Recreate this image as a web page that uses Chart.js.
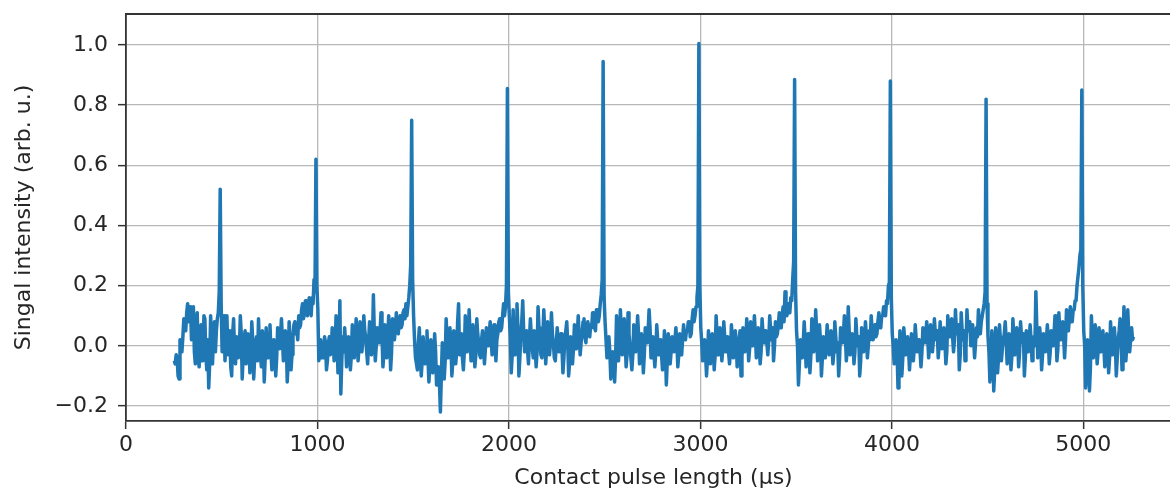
<!DOCTYPE html>
<html>
<head>
<meta charset="utf-8">
<script src="https://cdn.jsdelivr.net/npm/chart.js@4"></script>
<style>
  html, body { margin: 0; padding: 0; background: #fff; overflow: hidden; }
  #wrap { width: 1170px; height: 494px; overflow: hidden; }
</style>
</head>
<body>
<div id="wrap"><canvas id="pulses" width="1181" height="494"></canvas></div>
<script>
// sampling of the contact pulse length axis (µs)
var pulseStart = 252;
var pulseStep = 5;

// measured signal, one block per pulse (peak first, then the noise up to the next one)
var signal = [
  -0.05, -0.06, -0.03, -0.04, -0.10, -0.11, 0.02, 0.01, -0.02, 0.03, 0.09, 0.06, 0.05, 0.11, 0.14, 0.08, 0.12, 0.13, 0.02, 0.09,
  0.13, -0.02, -0.06, 0.07, 0.11, -0.04, -0.07, 0.03, 0.07, -0.05, -0.04, 0.10, 0.09, -0.03, -0.08, 0.02, -0.14, -0.06, 0.10, 0.01,
  -0.06, 0.04, 0.08, -0.02, 0.05, 0.09, 0.11, 0.18,
  // 500
  0.52, 0.14, -0.02, 0.05, 0.10, -0.05, 0.02, 0.10, -0.03, 0.01, 0.05, -0.07, -0.10, 0.04, 0.09, -0.02, -0.06, 0.03, 0.02, -0.04,
  -0.02, 0.10, 0.04, -0.11, -0.03, 0.02, 0.05, -0.06, -0.02, 0.04, 0.01, -0.09, -0.03, 0.08, 0.02, -0.11, -0.04, 0.01, 0.03, -0.05,
  0.09, 0.00, -0.03, -0.07, 0.05, 0.02, -0.12, -0.04, 0.06, 0.01, -0.04, 0.03, 0.07, -0.02, -0.08, 0.00, 0.02, -0.03, -0.10, -0.04,
  0.06, 0.01, -0.01, 0.04, 0.09, 0.02, -0.05, -0.01, 0.05, 0.03, -0.12, -0.06, 0.08, 0.02, -0.08, -0.03, 0.03, 0.07, 0.08, 0.04,
  0.05, 0.02, 0.10, 0.06, 0.07, 0.12, 0.14, 0.09, 0.11, 0.15, 0.15, 0.10, 0.13, 0.16, 0.12, 0.10, 0.16, 0.14, 0.22, 0.18,
  // 1000
  0.62, 0.20, 0.12, -0.05, -0.03, 0.02, -0.04, 0.00, -0.04, 0.03, 0.01, -0.08, -0.05, 0.01, 0.03, -0.03, -0.01, 0.06, 0.02, -0.05,
  -0.02, 0.10, 0.04, -0.09, -0.03, 0.15, -0.16, -0.05, 0.03, -0.02, 0.06, 0.01, -0.07, -0.02, 0.03, 0.00, -0.08, -0.03, 0.07, 0.02,
  -0.04, 0.01, 0.09, 0.03, -0.05, -0.01, 0.08, 0.04, -0.02, 0.02, 0.10, 0.05, 0.03, -0.02, -0.06, 0.01, 0.08, 0.03, -0.03, 0.00,
  0.17, 0.04, -0.05, 0.00, 0.06, 0.02, 0.01, 0.05, 0.11, 0.03, -0.07, -0.02, 0.07, 0.01, -0.04, 0.03, 0.10, 0.05, -0.08, -0.02,
  0.09, 0.04, 0.02, 0.06, 0.11, 0.05, 0.04, 0.08, 0.10, 0.06, 0.07, 0.11, 0.12, 0.09, 0.14, 0.10, 0.13, 0.16, 0.20, 0.27,
  // 1500
  0.75, 0.22, 0.10, 0.02, -0.04, -0.06, -0.08, 0.01, 0.06, -0.03, -0.10, -0.05, 0.03, -0.02, -0.06, 0.00, 0.05, -0.04, -0.12, -0.06,
  0.02, -0.03, -0.09, -0.04, 0.04, -0.02, -0.13, -0.08, -0.07, -0.12, -0.22, -0.10, 0.01, -0.04, -0.11, -0.05, 0.09, 0.02, -0.04, -0.01,
  0.06, 0.00, -0.10, -0.05, 0.05, 0.01, -0.06, -0.02, 0.08, 0.14, -0.03, 0.00, 0.04, -0.04, -0.08, -0.02, 0.10, 0.03, -0.02, 0.02,
  0.12, 0.04, -0.05, -0.01, 0.07, 0.02, -0.07, -0.03, 0.09, 0.04, 0.01, -0.03, -0.04, 0.02, 0.05, 0.00, -0.06, -0.01, 0.06, 0.03,
  0.00, 0.04, 0.08, 0.02, -0.03, 0.03, 0.07, 0.01, -0.05, 0.02, 0.04, 0.08, 0.09, 0.05, 0.06, 0.10, 0.14, 0.10, 0.13, 0.20,
  // 2000
  0.855, 0.18, 0.10, 0.03, -0.09, -0.03, 0.12, 0.04, -0.03, 0.02, 0.14, 0.06, -0.10, -0.04, 0.03, 0.08, 0.15, 0.05, -0.02, 0.01,
  0.05, -0.01, -0.06, 0.02, 0.09, 0.03, -0.01, -0.04, 0.05, 0.00, -0.07, -0.02, 0.13, 0.06, 0.02, -0.03, -0.04, 0.03, 0.12, 0.05,
  -0.06, -0.01, 0.08, 0.02, -0.03, 0.01, 0.11, 0.04, 0.01, -0.04, -0.05, 0.00, 0.06, 0.02, -0.02, 0.03, 0.04, -0.01, -0.09, -0.04,
  0.02, 0.05, 0.08, 0.01, -0.10, -0.05, 0.03, 0.00, -0.06, -0.01, 0.07, 0.02, -0.01, 0.04, 0.10, 0.03, -0.03, 0.01, 0.04, 0.08,
  0.09, 0.03, 0.01, 0.06, 0.08, 0.04, 0.03, 0.07, 0.06, 0.11, 0.11, 0.06, 0.05, 0.12, 0.12, 0.08, 0.10, 0.14, 0.17, 0.22,
  // 2500
  0.945, 0.16, 0.08, 0.02, -0.04, -0.01, 0.03, -0.02, -0.11, -0.06, -0.02, -0.08, -0.12, -0.04, 0.10, 0.03, -0.05, 0.00, 0.12, 0.05,
  -0.03, 0.01, 0.09, 0.02, -0.07, -0.03, 0.11, 0.04, 0.00, -0.04, -0.08, -0.03, 0.07, 0.01, -0.02, 0.03, 0.10, 0.04, -0.06, -0.01,
  0.04, 0.00, -0.09, -0.03, 0.06, 0.02, 0.01, 0.05, 0.12, 0.06, -0.04, 0.00, 0.03, -0.02, -0.07, -0.02, 0.07, 0.02, -0.03, 0.01,
  0.02, -0.03, -0.08, -0.02, 0.05, 0.00, -0.13, -0.05, 0.04, 0.01, -0.06, -0.02, 0.03, 0.00, -0.02, 0.02, 0.06, 0.01, -0.07, -0.03,
  0.04, 0.00, -0.03, 0.02, 0.07, 0.03, 0.02, 0.05, 0.05, 0.08, 0.08, 0.03, 0.04, 0.09, 0.12, 0.08, 0.10, 0.13, 0.16, 0.20,
  // 3000
  1.005, 0.20, 0.06, 0.01, -0.05, -0.01, 0.02, -0.03, -0.10, -0.04, 0.05, 0.01, -0.06, -0.02, 0.04, 0.00, -0.08, -0.03, 0.10, 0.04,
  -0.03, 0.01, 0.06, 0.02, -0.05, -0.01, 0.08, 0.03, -0.02, 0.01, 0.03, -0.02, -0.06, -0.02, 0.07, 0.02, -0.04, 0.00, 0.05, 0.01,
  -0.07, -0.02, 0.02, 0.05, -0.10, -0.04, 0.06, 0.02, -0.02, 0.02, 0.09, 0.03, -0.05, -0.01, 0.08, 0.03, 0.00, 0.04, 0.10, 0.04,
  -0.04, 0.00, 0.06, 0.01, -0.06, -0.02, 0.09, 0.04, 0.01, 0.05, 0.05, 0.01, -0.03, 0.02, 0.10, 0.05, 0.02, 0.06, -0.05, 0.00,
  0.08, 0.03, 0.04, 0.07, 0.11, 0.06, 0.06, 0.10, 0.13, 0.08, 0.18, 0.12, 0.10, 0.14, 0.14, 0.11, 0.16, 0.15, 0.22, 0.28,
  // 3500
  0.885, 0.18, 0.05, 0.00, -0.13, -0.06, 0.02, -0.01, -0.04, 0.01, 0.08, 0.02, -0.07, -0.02, 0.04, 0.00, -0.09, -0.03, 0.09, 0.03,
  -0.02, 0.02, 0.12, 0.05, -0.05, -0.01, 0.07, 0.02, -0.10, -0.04, 0.03, -0.01, -0.04, 0.01, 0.07, 0.02, -0.03, 0.01, 0.05, 0.00,
  -0.06, -0.02, 0.08, 0.03, -0.02, 0.01, -0.10, -0.04, 0.06, 0.02, 0.01, 0.04, 0.10, 0.04, -0.05, -0.01, 0.13, 0.05, -0.03, 0.00,
  0.04, 0.01, -0.06, -0.02, 0.09, 0.03, 0.00, 0.03, -0.10, -0.05, 0.06, 0.02, -0.02, 0.02, 0.08, 0.03, -0.04, 0.00, 0.05, 0.02,
  0.10, 0.05, 0.02, 0.05, 0.07, 0.03, 0.04, 0.08, 0.11, 0.06, 0.06, 0.10, 0.10, 0.13, 0.13, 0.10, 0.15, 0.14, 0.20, 0.21,
  // 4000
  0.88, 0.16, 0.04, 0.00, -0.06, -0.02, 0.02, -0.02, -0.14, -0.07, 0.05, 0.01, -0.10, -0.04, 0.06, 0.02, -0.03, 0.00, 0.03, -0.01,
  -0.08, -0.03, 0.04, 0.00, -0.05, -0.01, 0.07, 0.02, -0.02, 0.01, 0.02, -0.02, -0.07, -0.02, 0.06, 0.02, 0.01, 0.04, 0.08, 0.03,
  -0.04, 0.00, 0.07, 0.02, -0.02, 0.02, 0.09, 0.04, 0.02, 0.05, -0.04, 0.00, 0.08, 0.03, -0.01, 0.02, 0.06, 0.01, -0.06, -0.02,
  0.10, 0.04, 0.03, 0.06, 0.09, 0.03, -0.02, 0.02, 0.12, 0.05, 0.04, 0.07, -0.08, -0.03, 0.11, 0.05, 0.02, 0.05, -0.05, -0.01,
  0.12, 0.06, 0.05, 0.08, 0.00, 0.03, 0.07, 0.02, -0.04, 0.01, 0.06, 0.03, 0.12, 0.07, 0.04, 0.08, 0.10, 0.12, 0.14, 0.18,
  // 4500
  0.82, 0.14, 0.03, -0.02, -0.12, -0.05, 0.05, 0.00, -0.15, -0.08, 0.06, 0.01, -0.09, -0.04, 0.07, 0.02, -0.05, -0.01, 0.02, 0.04,
  0.08, 0.02, -0.06, -0.02, 0.04, 0.00, -0.08, -0.03, 0.09, 0.03, -0.03, 0.01, 0.06, 0.02, -0.07, -0.02, 0.08, 0.03, 0.01, 0.04,
  -0.10, -0.04, 0.05, 0.01, -0.02, 0.02, 0.07, 0.02, -0.05, -0.01, 0.03, 0.00, 0.18, 0.06, -0.04, 0.00, 0.06, 0.02, -0.08, -0.03,
  0.04, 0.00, -0.02, 0.02, 0.07, 0.02, -0.06, -0.02, 0.05, 0.01, 0.00, 0.04, 0.10, 0.04, -0.05, -0.01, 0.11, 0.05, 0.02, 0.05,
  0.08, 0.03, -0.04, 0.02, 0.12, 0.06, 0.05, 0.09, 0.13, 0.08, 0.08, 0.12, 0.12, 0.15, 0.15, 0.20, 0.20, 0.26, 0.30, 0.32,
  // 5000
  0.85, 0.20, 0.05, 0.00, -0.14, -0.06, 0.02, -0.03, -0.15, -0.07, 0.10, 0.03, -0.04, 0.00, 0.07, 0.02, -0.06, -0.02, 0.06, 0.01,
  -0.02, 0.02, 0.05, 0.00, -0.07, -0.03, 0.04, 0.00, -0.09, -0.04, 0.08, 0.02, -0.03, 0.01, 0.06, 0.01, -0.10, -0.04, 0.02, 0.05,
  0.09, 0.03, -0.08, -0.02, 0.13, 0.05, -0.05, 0.00, 0.12, 0.04, -0.02, 0.02, 0.06, 0.02, 0.03
];

var xTicks = [0, 1000, 2000, 3000, 4000, 5000];
var yTicks = [-0.2, 0.0, 0.2, 0.4, 0.6, 0.8, 1.0];

var points = signal.map(function(v, i) {
  return {x: pulseStart + i * pulseStep, y: v};
});

var axisColor = '#333333';
var gridColor = '#b8b8b8';
var textColor = '#262626';
var fontFamily = '"DejaVu Sans", sans-serif';

// top spine of the axes frame
var frameTop = {
  id: 'frameTop',
  afterDraw: function(chart) {
    var a = chart.chartArea, ctx = chart.ctx;
    ctx.save();
    ctx.strokeStyle = axisColor;
    ctx.lineWidth = 1.8;
    ctx.beginPath();
    ctx.moveTo(a.left, a.top);
    ctx.lineTo(a.right, a.top);
    ctx.stroke();
    ctx.restore();
  }
};

// fixed axis boxes, no extra room for the outer tick labels
function fixBox(size) {
  return function(s) {
    if (s.isHorizontal()) s.height = size; else s.width = size;
    s.paddingTop = 0;
    s.paddingBottom = 0;
    s.paddingLeft = 0;
    s.paddingRight = 0;
  };
}

new Chart('pulses', {
  type: 'line',
  data: {
    datasets: [{
      data: points,
      borderColor: '#1f77b4',
      borderWidth: 3.5,
      borderJoinStyle: 'round',
      pointRadius: 0,
      tension: 0,
      fill: false
    }]
  },
  plugins: [frameTop],
  options: {
    responsive: false,
    animation: false,
    layout: { padding: { top: 14, right: 0, bottom: 0, left: 0 } },
    plugins: { legend: { display: false }, tooltip: { enabled: false } },
    scales: {
      x: {
        type: 'linear',
        min: 0,
        max: 5510,
        afterFit: fixBox(73),
        afterBuildTicks: function(s) { s.ticks = xTicks.map(function(v) { return {value: v}; }); },
        grid: { color: gridColor, lineWidth: 1.3, tickLength: 8, tickColor: axisColor, tickWidth: 1.5 },
        border: { color: axisColor, width: 1.8 },
        ticks: {
          color: textColor,
          font: { family: fontFamily, size: 22 },
          padding: 3,
          maxRotation: 0,
          callback: function(v) { return String(v); }
        },
        title: {
          display: true,
          text: 'Contact pulse length (µs)',
          color: textColor,
          font: { family: fontFamily, size: 22 },
          padding: { top: 0, bottom: 3 }
        }
      },
      y: {
        min: -0.25,
        max: 1.103,
        afterFit: fixBox(126),
        afterBuildTicks: function(s) { s.ticks = yTicks.map(function(v) { return {value: v}; }); },
        grid: { color: gridColor, lineWidth: 1.3, tickLength: 8, tickColor: axisColor, tickWidth: 1.5 },
        border: { color: axisColor, width: 1.8 },
        ticks: {
          color: textColor,
          font: { family: fontFamily, size: 22 },
          padding: 10,
          callback: function(v) { return v.toFixed(1).replace('-', '\u2212'); }
        },
        title: {
          display: true,
          text: 'Singal intensity (arb. u.)',
          color: textColor,
          font: { family: fontFamily, size: 22 },
          padding: { top: 11, bottom: 0 }
        }
      }
    }
  }
});
</script>
</body>
</html>
